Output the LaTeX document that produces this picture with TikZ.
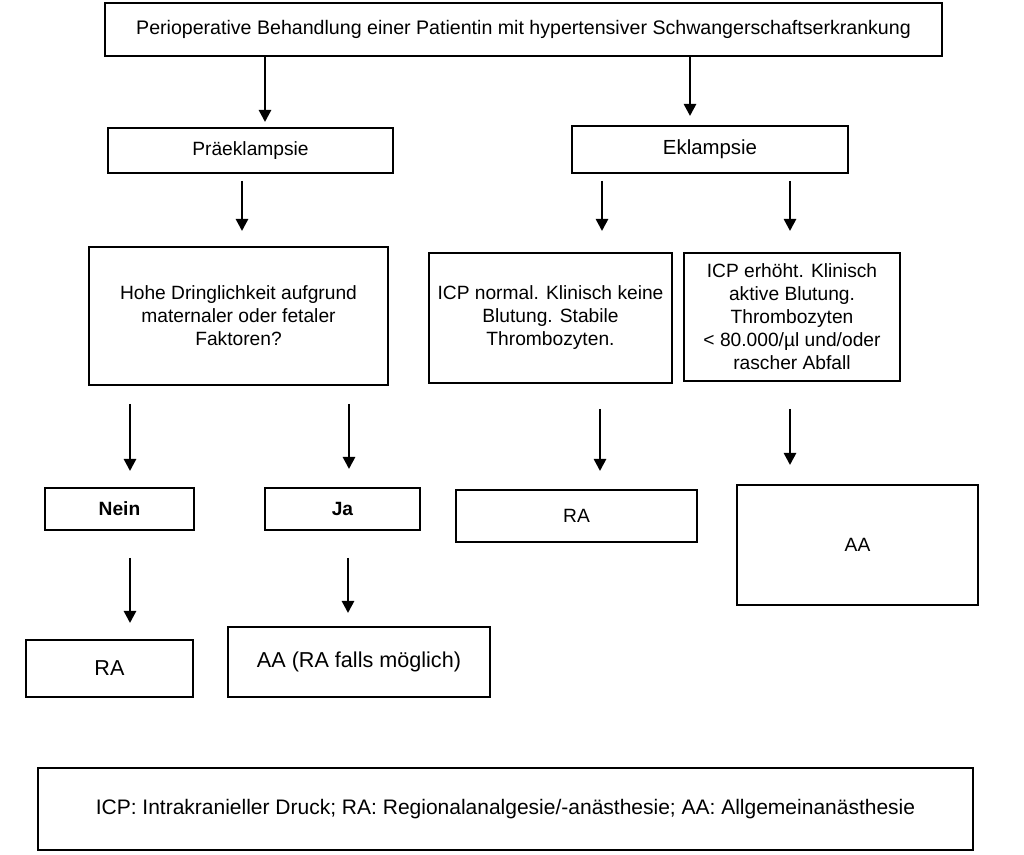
\documentclass[tikz,border=0pt]{standalone}
\usepackage{fontspec}
\setmainfont{Liberation Sans}
\usetikzlibrary{arrows.meta}

\tikzset{
	box/.style={draw, line width=1pt, inner sep=0pt, align=center,
		font=\fontsize{9.6}{11.5}\selectfont},
	big/.style={font=\fontsize{10.8}{13}\selectfont},
	arr/.style={-{Triangle[length=6pt, width=6pt]}, line width=1.3pt}
}

\begin{document}
\begin{tikzpicture}[x=0.5pt, y=-0.5pt]
		%variables
		\def\u{0.5pt}

		%frame
		\useasboundingbox (0,0) rectangle (1024,855);

		%boxes
		\node [box, font=\fontsize{9.8}{11.5}\selectfont, minimum width=837*\u, minimum height=53*\u] (top) at (523.5,29.5) {Perioperative Behandlung einer Patientin mit hypertensiver Schwangerschaftserkrankung};
		\node [box, minimum width=285*\u, minimum height=45*\u] (prae) at (250.5,150.5) {Präeklampsie};
		\node [box, font=\fontsize{10.2}{12}\selectfont, minimum width=276*\u, minimum height=47*\u] (ekl) at (710,149.5) {Eklampsie};

		\node [box, minimum width=299*\u, minimum height=138*\u] (hohe) at (238.5,316) {Hohe Dringlichkeit aufgrund\\ maternaler oder fetaler\\ Faktoren?};
		\node [box, minimum width=243*\u, minimum height=130*\u] (icpn) at (550.5,318) {ICP normal. Klinisch keine\\ Blutung. Stabile\\ Thrombozyten.};
		\node [box, minimum width=216*\u, minimum height=128*\u] (icpe) at (792,317) {ICP erhöht. Klinisch\\ aktive Blutung.\\ Thrombozyten\\ < 80.000/µl und/oder\\ rascher Abfall};

		\node [box, minimum width=149*\u, minimum height=42*\u] (nein) at (119.5,509) {\bfseries Nein};
		\node [box, minimum width=155*\u, minimum height=42*\u] (ja) at (342.5,509) {\bfseries Ja};
		\node [box, minimum width=241*\u, minimum height=52*\u] (ra2) at (576.5,516) {RA};
		\node [box, minimum width=241*\u, minimum height=120*\u] (aa2) at (857.5,545) {AA};

		\node [box, big, minimum width=167*\u, minimum height=57*\u] (ra1) at (109.5,668.5) {RA};
		\node [box, big, minimum width=262*\u, minimum height=70*\u] (aa1) at (359,662) {AA (RA falls möglich)};

		\node [box, font=\fontsize{10.5}{12.5}\selectfont, minimum width=935*\u, minimum height=82*\u] (leg) at (505.5,809) {ICP: Intrakranieller Druck; RA: Regionalanalgesie/-anästhesie; AA: Allgemeinanästhesie};

		%arrows
		\draw [arr, shorten >=2.5pt] (top.south -| 265,0) -- (prae.north -| 265,0);
		\draw [arr, shorten >=4.5pt] (top.south -| 690,0) -- (ekl.north -| 690,0);
		\draw [arr, shorten <=3.5pt, shorten >=7.5pt] (prae.south -| 242,0) -- (hohe.north -| 242,0);
		\draw [arr, shorten <=3.5pt, shorten >=10.5pt] (ekl.south -| 602,0) -- (icpn.north -| 602,0);
		\draw [arr, shorten <=3.5pt, shorten >=10.5pt] (ekl.south -| 790,0) -- (icpe.north -| 790,0);
		\draw [arr, shorten <=9pt, shorten >=8pt] (hohe.south -| 130,0) -- (nein.north -| 130,0);
		\draw [arr, shorten <=9pt, shorten >=9pt] (hohe.south -| 349,0) -- (ja.north -| 349,0);
		\draw [arr, shorten <=12.5pt, shorten >=9pt] (icpn.south -| 600,0) -- (ra2.north -| 600,0);
		\draw [arr, shorten <=13.5pt, shorten >=9.5pt] (icpe.south -| 790,0) -- (aa2.north -| 790,0);
		\draw [arr, shorten <=13.5pt, shorten >=8pt] (nein.south -| 130,0) -- (ra1.north -| 130,0);
		\draw [arr, shorten <=13.5pt, shorten >=6.5pt] (ja.south -| 348,0) -- (aa1.north -| 348,0);
	\end{tikzpicture}
\end{document}
